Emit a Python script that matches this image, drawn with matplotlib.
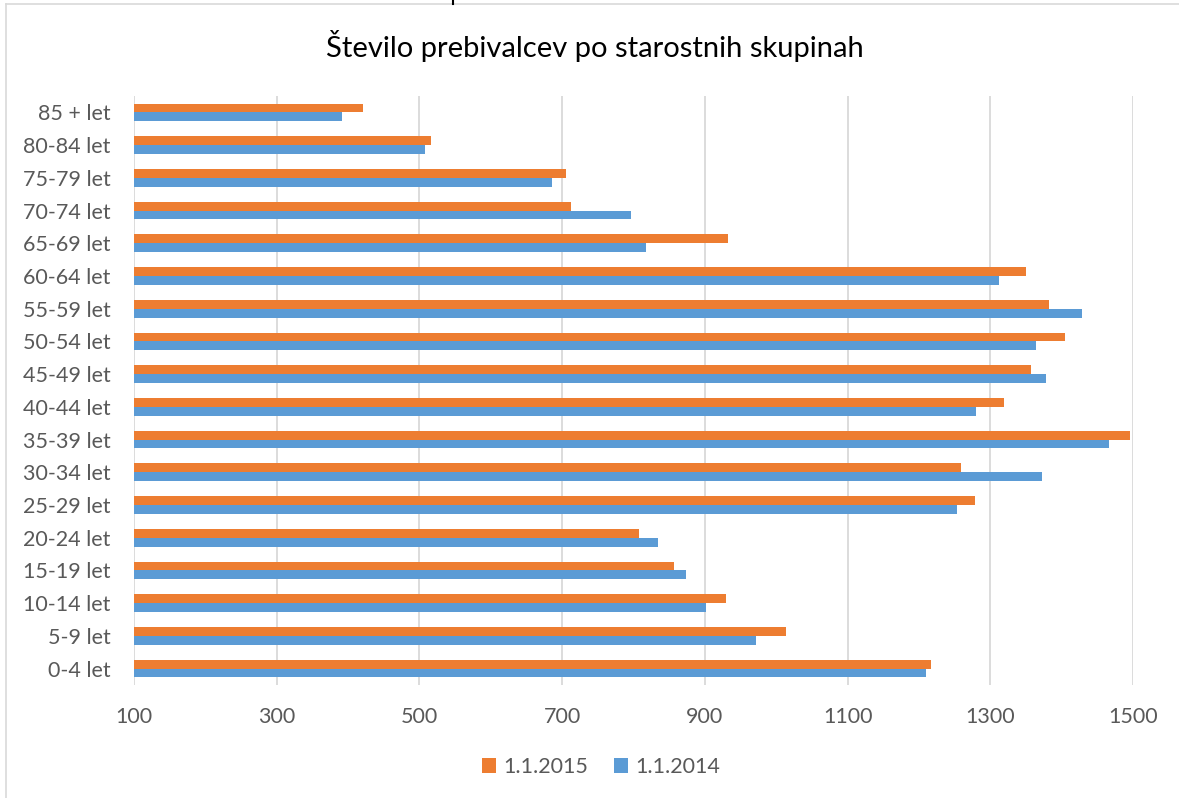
import matplotlib
matplotlib.use('Agg')
import matplotlib.pyplot as plt
import numpy as np
from matplotlib.lines import Line2D

plt.rcParams['font.family'] = ['Lato', 'DejaVu Sans']

# age groups from bottom (0-4) to top (85+)
groups = ['0-4 let', '5-9 let', '10-14 let', '15-19 let', '20-24 let', '25-29 let',
          '30-34 let', '35-39 let', '40-44 let', '45-49 let', '50-54 let', '55-59 let',
          '60-64 let', '65-69 let', '70-74 let', '75-79 let', '80-84 let', '85 + let']
pop_2015 = [1217, 1014, 930, 857, 808, 1278, 1259, 1496, 1319, 1357, 1405, 1382,
            1350, 932, 713, 706, 516, 421]
pop_2014 = [1210, 971, 902, 873, 835, 1254, 1372, 1466, 1280, 1378, 1364, 1429,
            1312, 818, 797, 686, 508, 392]
xticks = [100, 300, 500, 700, 900, 1100, 1300, 1500]

orange = '#ED7D31'
blue = '#5B9BD5'
txt = '#595959'
grid = '#D9D9D9'

W, H = 1179, 798
fig = plt.figure(figsize=(W / 100, H / 100), dpi=100)
ax = fig.add_axes([134 / W, 1 - 685 / H, (1133 - 134) / W, (685 - 96) / H])

y = np.arange(len(groups))
h = 0.27
base = 100
ax.barh(y + h / 2, np.array(pop_2015) - base, height=h, left=base, color=orange,
        label='1.1.2015', zorder=3)
ax.barh(y - h / 2, np.array(pop_2014) - base, height=h, left=base, color=blue,
        label='1.1.2014', zorder=3)

ax.set_xlim(100, 1500)
ax.set_ylim(-0.5, len(groups) - 0.5)
ax.set_xticks(xticks)
ax.set_yticks(y)
ax.set_yticklabels(groups)
for s in ax.spines.values():
    s.set_visible(False)
ax.grid(axis='x', color=grid, linewidth=1.3, zorder=0)
ax.tick_params(axis='both', length=0, labelsize=15.5, colors=txt)
ax.tick_params(axis='y', pad=17)
ax.tick_params(axis='x', pad=16)

fig.text(594.5 / W, 1 - 46 / H, 'Število prebivalcev po starostnih skupinah',
         ha='center', va='center', fontsize=21, color='black')

fig.legend(loc='center', bbox_to_anchor=(601 / W, 1 - 767 / H), ncol=2,
           frameon=False, fontsize=15.5, labelcolor=txt, handlelength=0.65,
           handleheight=0.65, handletextpad=0.35, columnspacing=1.2)

# chart area border (top and left only visible)
fig.add_artist(Line2D([6 / W, 1], [1 - 4 / H, 1 - 4 / H], color=grid, linewidth=1.2))
fig.add_artist(Line2D([6 / W, 6 / W], [0, 1 - 4 / H], color=grid, linewidth=1.2))
fig.add_artist(Line2D([453 / W, 453 / W], [1 - 4 / H, 1], color='black', linewidth=1.5))

fig.savefig('out.png', dpi=100)
